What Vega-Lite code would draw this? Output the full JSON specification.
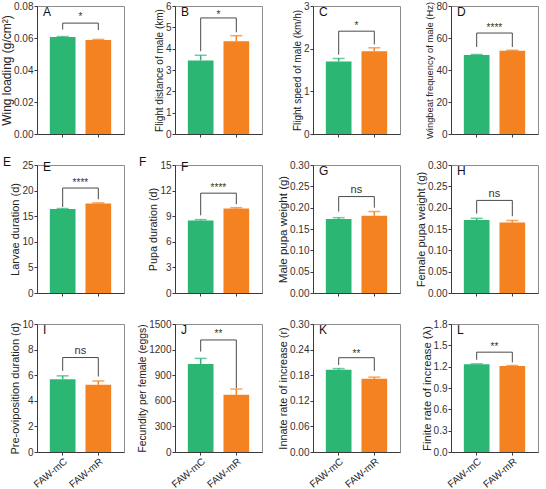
{
  "$schema": "https://vega.github.io/schema/vega-lite/v6.json",
  "padding": {"left": 0, "top": 0, "right": 0, "bottom": 4},
  "datasets": {
    "bars": [
      {"panel": "A", "group": "FAW-mC", "mean": 0.0606, "upper": 0.0609},
      {"panel": "A", "group": "FAW-mR", "mean": 0.0588, "upper": 0.0591},
      {"panel": "B", "group": "FAW-mC", "mean": 3.45, "upper": 3.69},
      {"panel": "B", "group": "FAW-mR", "mean": 4.35, "upper": 4.61},
      {"panel": "C", "group": "FAW-mC", "mean": 1.70, "upper": 1.77},
      {"panel": "C", "group": "FAW-mR", "mean": 1.94, "upper": 2.02},
      {"panel": "D", "group": "FAW-mC", "mean": 49.4, "upper": 49.7},
      {"panel": "D", "group": "FAW-mR", "mean": 52.1, "upper": 52.4},
      {"panel": "E", "group": "FAW-mC", "mean": 16.4, "upper": 16.5},
      {"panel": "E", "group": "FAW-mR", "mean": 17.5, "upper": 17.6},
      {"panel": "F", "group": "FAW-mC", "mean": 8.5, "upper": 8.6},
      {"panel": "F", "group": "FAW-mR", "mean": 9.9, "upper": 10.0},
      {"panel": "G", "group": "FAW-mC", "mean": 0.1735, "upper": 0.1765},
      {"panel": "G", "group": "FAW-mR", "mean": 0.181, "upper": 0.191},
      {"panel": "H", "group": "FAW-mC", "mean": 0.171, "upper": 0.175},
      {"panel": "H", "group": "FAW-mR", "mean": 0.165, "upper": 0.170},
      {"panel": "I", "group": "FAW-mC", "mean": 5.69, "upper": 5.95},
      {"panel": "I", "group": "FAW-mR", "mean": 5.25, "upper": 5.55},
      {"panel": "J", "group": "FAW-mC", "mean": 1030, "upper": 1097},
      {"panel": "J", "group": "FAW-mR", "mean": 670, "upper": 738},
      {"panel": "K", "group": "FAW-mC", "mean": 0.1925, "upper": 0.1955},
      {"panel": "K", "group": "FAW-mR", "mean": 0.1715, "upper": 0.1755},
      {"panel": "L", "group": "FAW-mC", "mean": 1.235, "upper": 1.24},
      {"panel": "L", "group": "FAW-mR", "mean": 1.21, "upper": 1.215}
    ],
    "br": [
      {"panel": "A", "ord": 1, "group": "FAW-mC", "y": 0.0653},
      {"panel": "A", "ord": 2, "group": "FAW-mC", "y": 0.0693},
      {"panel": "A", "ord": 3, "group": "FAW-mR", "y": 0.0693},
      {"panel": "A", "ord": 4, "group": "FAW-mR", "y": 0.065},
      {"panel": "B", "ord": 1, "group": "FAW-mC", "y": 3.88},
      {"panel": "B", "ord": 2, "group": "FAW-mC", "y": 5.44},
      {"panel": "B", "ord": 3, "group": "FAW-mR", "y": 5.44},
      {"panel": "B", "ord": 4, "group": "FAW-mR", "y": 4.77},
      {"panel": "C", "ord": 1, "group": "FAW-mC", "y": 1.86},
      {"panel": "C", "ord": 2, "group": "FAW-mC", "y": 2.41},
      {"panel": "C", "ord": 3, "group": "FAW-mR", "y": 2.41},
      {"panel": "C", "ord": 4, "group": "FAW-mR", "y": 2.10},
      {"panel": "D", "ord": 1, "group": "FAW-mC", "y": 54.4},
      {"panel": "D", "ord": 2, "group": "FAW-mC", "y": 63.1},
      {"panel": "D", "ord": 3, "group": "FAW-mR", "y": 63.1},
      {"panel": "D", "ord": 4, "group": "FAW-mR", "y": 54.4},
      {"panel": "E", "ord": 1, "group": "FAW-mC", "y": 16.8},
      {"panel": "E", "ord": 2, "group": "FAW-mC", "y": 20.5},
      {"panel": "E", "ord": 3, "group": "FAW-mR", "y": 20.5},
      {"panel": "E", "ord": 4, "group": "FAW-mR", "y": 18.3},
      {"panel": "F", "ord": 1, "group": "FAW-mC", "y": 9.1},
      {"panel": "F", "ord": 2, "group": "FAW-mC", "y": 11.7},
      {"panel": "F", "ord": 3, "group": "FAW-mR", "y": 11.7},
      {"panel": "F", "ord": 4, "group": "FAW-mR", "y": 10.4},
      {"panel": "G", "ord": 1, "group": "FAW-mC", "y": 0.191},
      {"panel": "G", "ord": 2, "group": "FAW-mC", "y": 0.226},
      {"panel": "G", "ord": 3, "group": "FAW-mR", "y": 0.226},
      {"panel": "G", "ord": 4, "group": "FAW-mR", "y": 0.200},
      {"panel": "H", "ord": 1, "group": "FAW-mC", "y": 0.186},
      {"panel": "H", "ord": 2, "group": "FAW-mC", "y": 0.217},
      {"panel": "H", "ord": 3, "group": "FAW-mR", "y": 0.217},
      {"panel": "H", "ord": 4, "group": "FAW-mR", "y": 0.180},
      {"panel": "I", "ord": 1, "group": "FAW-mC", "y": 6.34},
      {"panel": "I", "ord": 2, "group": "FAW-mC", "y": 7.38},
      {"panel": "I", "ord": 3, "group": "FAW-mR", "y": 7.38},
      {"panel": "I", "ord": 4, "group": "FAW-mR", "y": 5.9},
      {"panel": "J", "ord": 1, "group": "FAW-mC", "y": 1177},
      {"panel": "J", "ord": 2, "group": "FAW-mC", "y": 1313},
      {"panel": "J", "ord": 3, "group": "FAW-mR", "y": 1313},
      {"panel": "J", "ord": 4, "group": "FAW-mR", "y": 750},
      {"panel": "K", "ord": 1, "group": "FAW-mC", "y": 0.204},
      {"panel": "K", "ord": 2, "group": "FAW-mC", "y": 0.221},
      {"panel": "K", "ord": 3, "group": "FAW-mR", "y": 0.221},
      {"panel": "K", "ord": 4, "group": "FAW-mR", "y": 0.19},
      {"panel": "L", "ord": 1, "group": "FAW-mC", "y": 1.297},
      {"panel": "L", "ord": 2, "group": "FAW-mC", "y": 1.404},
      {"panel": "L", "ord": 3, "group": "FAW-mR", "y": 1.404},
      {"panel": "L", "ord": 4, "group": "FAW-mR", "y": 1.26}
    ],
    "sig": [
      {"panel": "A", "group": "FAW-mC", "label": "*", "y": 0.0733},
      {"panel": "B", "group": "FAW-mC", "label": "*", "y": 5.56},
      {"panel": "C", "group": "FAW-mC", "label": "*", "y": 2.53},
      {"panel": "D", "group": "FAW-mC", "label": "****", "y": 66.5},
      {"panel": "E", "group": "FAW-mC", "label": "****", "y": 21.4},
      {"panel": "F", "group": "FAW-mC", "label": "****", "y": 12.25},
      {"panel": "G", "group": "FAW-mC", "label": "ns", "y": 0.241},
      {"panel": "H", "group": "FAW-mC", "label": "ns", "y": 0.233},
      {"panel": "I", "group": "FAW-mC", "label": "ns", "y": 7.9},
      {"panel": "J", "group": "FAW-mC", "label": "**", "y": 1385},
      {"panel": "K", "group": "FAW-mC", "label": "**", "y": 0.2305},
      {"panel": "L", "group": "FAW-mC", "label": "**", "y": 1.47}
    ],
    "outer": [
      {"panel": "E", "group": "FAW-mC", "label": "E", "y": 25.6},
      {"panel": "F", "group": "FAW-mC", "label": "F", "y": 15.4}
    ]
  },
  "concat": [
    {
      "width": 87, "height": 128, "title": "A",
      "layer": [
        {"data": {"name": "bars"}, "transform": [{"filter": "datum.panel === 'A'"}], "mark": {"type": "bar"},
         "encoding": {"x": {"field": "group", "type": "nominal", "scale": {"paddingInner": 0.28, "paddingOuter": 0.36}, "axis": {"title": null, "labels": false}},
                      "y": {"field": "mean", "type": "quantitative", "scale": {"domain": [0, 0.08], "nice": false}, "axis": {"title": "Wing loading (g/cm²)", "titleFontSize": 12, "titlePadding": 0, "tickCount": 20, "values": [0, 0.02, 0.04, 0.06, 0.08], "format": ".2f"}},
                      "color": {"field": "group", "type": "nominal", "legend": null}}},
        {"data": {"name": "bars"}, "transform": [{"filter": "datum.panel === 'A'"}], "mark": {"type": "rule", "strokeWidth": 1.5},
         "encoding": {"x": {"field": "group", "type": "nominal"}, "y": {"field": "mean", "type": "quantitative"}, "y2": {"field": "upper"}, "color": {"field": "group", "type": "nominal", "legend": null}}},
        {"data": {"name": "bars"}, "transform": [{"filter": "datum.panel === 'A'"}], "mark": {"type": "tick", "thickness": 1.5, "size": 12},
         "encoding": {"x": {"field": "group", "type": "nominal"}, "y": {"field": "upper", "type": "quantitative"}, "color": {"field": "group", "type": "nominal", "legend": null}}},
        {"data": {"name": "br"}, "transform": [{"filter": "datum.panel === 'A'"}], "mark": {"type": "line", "color": "#4a4a4a", "strokeWidth": 1},
         "encoding": {"x": {"field": "group", "type": "nominal"}, "y": {"field": "y", "type": "quantitative"}, "order": {"field": "ord", "type": "quantitative"}}},
        {"data": {"name": "sig"}, "transform": [{"filter": "datum.panel === 'A'"}], "mark": {"type": "text", "fontSize": 10, "baseline": "middle"},
         "encoding": {"x": {"field": "group", "type": "nominal", "bandPosition": 1.19}, "y": {"field": "y", "type": "quantitative"}, "text": {"field": "label"}}}
      ]
    },
    {
      "width": 87, "height": 128, "title": "B",
      "layer": [
        {"data": {"name": "bars"}, "transform": [{"filter": "datum.panel === 'B'"}], "mark": {"type": "bar"},
         "encoding": {"x": {"field": "group", "type": "nominal", "scale": {"paddingInner": 0.28, "paddingOuter": 0.36}, "axis": {"title": null, "labels": false}},
                      "y": {"field": "mean", "type": "quantitative", "scale": {"domain": [0, 6], "nice": false}, "axis": {"title": "Flight distance of male (km)", "titleFontSize": 10, "tickCount": 20, "values": [0, 1, 2, 3, 4, 5, 6], "format": "d"}},
                      "color": {"field": "group", "type": "nominal", "legend": null}}},
        {"data": {"name": "bars"}, "transform": [{"filter": "datum.panel === 'B'"}], "mark": {"type": "rule", "strokeWidth": 1.5},
         "encoding": {"x": {"field": "group", "type": "nominal"}, "y": {"field": "mean", "type": "quantitative"}, "y2": {"field": "upper"}, "color": {"field": "group", "type": "nominal", "legend": null}}},
        {"data": {"name": "bars"}, "transform": [{"filter": "datum.panel === 'B'"}], "mark": {"type": "tick", "thickness": 1.5, "size": 12},
         "encoding": {"x": {"field": "group", "type": "nominal"}, "y": {"field": "upper", "type": "quantitative"}, "color": {"field": "group", "type": "nominal", "legend": null}}},
        {"data": {"name": "br"}, "transform": [{"filter": "datum.panel === 'B'"}], "mark": {"type": "line", "color": "#4a4a4a", "strokeWidth": 1},
         "encoding": {"x": {"field": "group", "type": "nominal"}, "y": {"field": "y", "type": "quantitative"}, "order": {"field": "ord", "type": "quantitative"}}},
        {"data": {"name": "sig"}, "transform": [{"filter": "datum.panel === 'B'"}], "mark": {"type": "text", "fontSize": 10, "baseline": "middle"},
         "encoding": {"x": {"field": "group", "type": "nominal", "bandPosition": 1.19}, "y": {"field": "y", "type": "quantitative"}, "text": {"field": "label"}}}
      ]
    },
    {
      "width": 87, "height": 128, "title": "C",
      "layer": [
        {"data": {"name": "bars"}, "transform": [{"filter": "datum.panel === 'C'"}], "mark": {"type": "bar"},
         "encoding": {"x": {"field": "group", "type": "nominal", "scale": {"paddingInner": 0.28, "paddingOuter": 0.36}, "axis": {"title": null, "labels": false}},
                      "y": {"field": "mean", "type": "quantitative", "scale": {"domain": [0, 3], "nice": false}, "axis": {"title": "Flight speed of male (km/h)", "titleFontSize": 10, "tickCount": 20, "values": [0, 1, 2, 3], "format": "d"}},
                      "color": {"field": "group", "type": "nominal", "legend": null}}},
        {"data": {"name": "bars"}, "transform": [{"filter": "datum.panel === 'C'"}], "mark": {"type": "rule", "strokeWidth": 1.5},
         "encoding": {"x": {"field": "group", "type": "nominal"}, "y": {"field": "mean", "type": "quantitative"}, "y2": {"field": "upper"}, "color": {"field": "group", "type": "nominal", "legend": null}}},
        {"data": {"name": "bars"}, "transform": [{"filter": "datum.panel === 'C'"}], "mark": {"type": "tick", "thickness": 1.5, "size": 12},
         "encoding": {"x": {"field": "group", "type": "nominal"}, "y": {"field": "upper", "type": "quantitative"}, "color": {"field": "group", "type": "nominal", "legend": null}}},
        {"data": {"name": "br"}, "transform": [{"filter": "datum.panel === 'C'"}], "mark": {"type": "line", "color": "#4a4a4a", "strokeWidth": 1},
         "encoding": {"x": {"field": "group", "type": "nominal"}, "y": {"field": "y", "type": "quantitative"}, "order": {"field": "ord", "type": "quantitative"}}},
        {"data": {"name": "sig"}, "transform": [{"filter": "datum.panel === 'C'"}], "mark": {"type": "text", "fontSize": 10, "baseline": "middle"},
         "encoding": {"x": {"field": "group", "type": "nominal", "bandPosition": 1.19}, "y": {"field": "y", "type": "quantitative"}, "text": {"field": "label"}}}
      ]
    },
    {
      "width": 87, "height": 128, "title": "D",
      "layer": [
        {"data": {"name": "bars"}, "transform": [{"filter": "datum.panel === 'D'"}], "mark": {"type": "bar"},
         "encoding": {"x": {"field": "group", "type": "nominal", "scale": {"paddingInner": 0.28, "paddingOuter": 0.36}, "axis": {"title": null, "labels": false}},
                      "y": {"field": "mean", "type": "quantitative", "scale": {"domain": [0, 80], "nice": false}, "axis": {"title": "Wingbeat frequency of male (Hz)", "titleFontSize": 9.4, "tickCount": 20, "values": [0, 20, 40, 60, 80], "format": "d"}},
                      "color": {"field": "group", "type": "nominal", "legend": null}}},
        {"data": {"name": "bars"}, "transform": [{"filter": "datum.panel === 'D'"}], "mark": {"type": "rule", "strokeWidth": 1.5},
         "encoding": {"x": {"field": "group", "type": "nominal"}, "y": {"field": "mean", "type": "quantitative"}, "y2": {"field": "upper"}, "color": {"field": "group", "type": "nominal", "legend": null}}},
        {"data": {"name": "bars"}, "transform": [{"filter": "datum.panel === 'D'"}], "mark": {"type": "tick", "thickness": 1.5, "size": 12},
         "encoding": {"x": {"field": "group", "type": "nominal"}, "y": {"field": "upper", "type": "quantitative"}, "color": {"field": "group", "type": "nominal", "legend": null}}},
        {"data": {"name": "br"}, "transform": [{"filter": "datum.panel === 'D'"}], "mark": {"type": "line", "color": "#4a4a4a", "strokeWidth": 1},
         "encoding": {"x": {"field": "group", "type": "nominal"}, "y": {"field": "y", "type": "quantitative"}, "order": {"field": "ord", "type": "quantitative"}}},
        {"data": {"name": "sig"}, "transform": [{"filter": "datum.panel === 'D'"}], "mark": {"type": "text", "fontSize": 10, "baseline": "middle"},
         "encoding": {"x": {"field": "group", "type": "nominal", "bandPosition": 1.19}, "y": {"field": "y", "type": "quantitative"}, "text": {"field": "label"}}}
      ]
    },
    {
      "width": 87, "height": 128, "title": "E",
      "layer": [
        {"data": {"name": "bars"}, "transform": [{"filter": "datum.panel === 'E'"}], "mark": {"type": "bar"},
         "encoding": {"x": {"field": "group", "type": "nominal", "scale": {"paddingInner": 0.28, "paddingOuter": 0.36}, "axis": {"title": null, "labels": false}},
                      "y": {"field": "mean", "type": "quantitative", "scale": {"domain": [0, 25], "nice": false}, "axis": {"title": "Larvae duration (d)", "titleFontSize": 11, "tickCount": 20, "values": [0, 5, 10, 15, 20, 25], "format": "d"}},
                      "color": {"field": "group", "type": "nominal", "legend": null}}},
        {"data": {"name": "bars"}, "transform": [{"filter": "datum.panel === 'E'"}], "mark": {"type": "rule", "strokeWidth": 1.5},
         "encoding": {"x": {"field": "group", "type": "nominal"}, "y": {"field": "mean", "type": "quantitative"}, "y2": {"field": "upper"}, "color": {"field": "group", "type": "nominal", "legend": null}}},
        {"data": {"name": "bars"}, "transform": [{"filter": "datum.panel === 'E'"}], "mark": {"type": "tick", "thickness": 1.5, "size": 12},
         "encoding": {"x": {"field": "group", "type": "nominal"}, "y": {"field": "upper", "type": "quantitative"}, "color": {"field": "group", "type": "nominal", "legend": null}}},
        {"data": {"name": "br"}, "transform": [{"filter": "datum.panel === 'E'"}], "mark": {"type": "line", "color": "#4a4a4a", "strokeWidth": 1},
         "encoding": {"x": {"field": "group", "type": "nominal"}, "y": {"field": "y", "type": "quantitative"}, "order": {"field": "ord", "type": "quantitative"}}},
        {"data": {"name": "sig"}, "transform": [{"filter": "datum.panel === 'E'"}], "mark": {"type": "text", "fontSize": 10, "baseline": "middle"},
         "encoding": {"x": {"field": "group", "type": "nominal", "bandPosition": 1.19}, "y": {"field": "y", "type": "quantitative"}, "text": {"field": "label"}}},
        {"data": {"name": "outer"}, "transform": [{"filter": "datum.panel === 'E'"}], "mark": {"type": "text", "fontSize": 12, "align": "left", "baseline": "middle", "color": "#111"},
         "encoding": {"x": {"field": "group", "type": "nominal", "bandPosition": -1.82}, "y": {"field": "y", "type": "quantitative"}, "text": {"field": "label"}}}
      ]
    },
    {
      "width": 87, "height": 128, "title": "F",
      "layer": [
        {"data": {"name": "bars"}, "transform": [{"filter": "datum.panel === 'F'"}], "mark": {"type": "bar"},
         "encoding": {"x": {"field": "group", "type": "nominal", "scale": {"paddingInner": 0.28, "paddingOuter": 0.36}, "axis": {"title": null, "labels": false}},
                      "y": {"field": "mean", "type": "quantitative", "scale": {"domain": [0, 15], "nice": false}, "axis": {"title": "Pupa duration (d)", "titleFontSize": 10.8, "tickCount": 20, "values": [0, 3, 6, 9, 12, 15], "format": "d"}},
                      "color": {"field": "group", "type": "nominal", "legend": null}}},
        {"data": {"name": "bars"}, "transform": [{"filter": "datum.panel === 'F'"}], "mark": {"type": "rule", "strokeWidth": 1.5},
         "encoding": {"x": {"field": "group", "type": "nominal"}, "y": {"field": "mean", "type": "quantitative"}, "y2": {"field": "upper"}, "color": {"field": "group", "type": "nominal", "legend": null}}},
        {"data": {"name": "bars"}, "transform": [{"filter": "datum.panel === 'F'"}], "mark": {"type": "tick", "thickness": 1.5, "size": 12},
         "encoding": {"x": {"field": "group", "type": "nominal"}, "y": {"field": "upper", "type": "quantitative"}, "color": {"field": "group", "type": "nominal", "legend": null}}},
        {"data": {"name": "br"}, "transform": [{"filter": "datum.panel === 'F'"}], "mark": {"type": "line", "color": "#4a4a4a", "strokeWidth": 1},
         "encoding": {"x": {"field": "group", "type": "nominal"}, "y": {"field": "y", "type": "quantitative"}, "order": {"field": "ord", "type": "quantitative"}}},
        {"data": {"name": "sig"}, "transform": [{"filter": "datum.panel === 'F'"}], "mark": {"type": "text", "fontSize": 10, "baseline": "middle"},
         "encoding": {"x": {"field": "group", "type": "nominal", "bandPosition": 1.19}, "y": {"field": "y", "type": "quantitative"}, "text": {"field": "label"}}},
        {"data": {"name": "outer"}, "transform": [{"filter": "datum.panel === 'F'"}], "mark": {"type": "text", "fontSize": 12, "align": "left", "baseline": "middle", "color": "#111"},
         "encoding": {"x": {"field": "group", "type": "nominal", "bandPosition": -1.9}, "y": {"field": "y", "type": "quantitative"}, "text": {"field": "label"}}}
      ]
    },
    {
      "width": 87, "height": 128, "title": "G",
      "layer": [
        {"data": {"name": "bars"}, "transform": [{"filter": "datum.panel === 'G'"}], "mark": {"type": "bar"},
         "encoding": {"x": {"field": "group", "type": "nominal", "scale": {"paddingInner": 0.28, "paddingOuter": 0.36}, "axis": {"title": null, "labels": false}},
                      "y": {"field": "mean", "type": "quantitative", "scale": {"domain": [0, 0.3], "nice": false}, "axis": {"title": "Male pupa weight (g)", "titleFontSize": 11.5, "tickCount": 20, "values": [0, 0.05, 0.1, 0.15, 0.2, 0.25, 0.3], "format": ".2f"}},
                      "color": {"field": "group", "type": "nominal", "legend": null}}},
        {"data": {"name": "bars"}, "transform": [{"filter": "datum.panel === 'G'"}], "mark": {"type": "rule", "strokeWidth": 1.5},
         "encoding": {"x": {"field": "group", "type": "nominal"}, "y": {"field": "mean", "type": "quantitative"}, "y2": {"field": "upper"}, "color": {"field": "group", "type": "nominal", "legend": null}}},
        {"data": {"name": "bars"}, "transform": [{"filter": "datum.panel === 'G'"}], "mark": {"type": "tick", "thickness": 1.5, "size": 12},
         "encoding": {"x": {"field": "group", "type": "nominal"}, "y": {"field": "upper", "type": "quantitative"}, "color": {"field": "group", "type": "nominal", "legend": null}}},
        {"data": {"name": "br"}, "transform": [{"filter": "datum.panel === 'G'"}], "mark": {"type": "line", "color": "#4a4a4a", "strokeWidth": 1},
         "encoding": {"x": {"field": "group", "type": "nominal"}, "y": {"field": "y", "type": "quantitative"}, "order": {"field": "ord", "type": "quantitative"}}},
        {"data": {"name": "sig"}, "transform": [{"filter": "datum.panel === 'G'"}], "mark": {"type": "text", "fontSize": 11, "baseline": "middle"},
         "encoding": {"x": {"field": "group", "type": "nominal", "bandPosition": 1.19}, "y": {"field": "y", "type": "quantitative"}, "text": {"field": "label"}}}
      ]
    },
    {
      "width": 87, "height": 128, "title": "H",
      "layer": [
        {"data": {"name": "bars"}, "transform": [{"filter": "datum.panel === 'H'"}], "mark": {"type": "bar"},
         "encoding": {"x": {"field": "group", "type": "nominal", "scale": {"paddingInner": 0.28, "paddingOuter": 0.36}, "axis": {"title": null, "labels": false}},
                      "y": {"field": "mean", "type": "quantitative", "scale": {"domain": [0, 0.3], "nice": false}, "axis": {"title": "Female pupa weight (g)", "titleFontSize": 11, "tickCount": 20, "values": [0, 0.05, 0.1, 0.15, 0.2, 0.25, 0.3], "format": ".2f"}},
                      "color": {"field": "group", "type": "nominal", "legend": null}}},
        {"data": {"name": "bars"}, "transform": [{"filter": "datum.panel === 'H'"}], "mark": {"type": "rule", "strokeWidth": 1.5},
         "encoding": {"x": {"field": "group", "type": "nominal"}, "y": {"field": "mean", "type": "quantitative"}, "y2": {"field": "upper"}, "color": {"field": "group", "type": "nominal", "legend": null}}},
        {"data": {"name": "bars"}, "transform": [{"filter": "datum.panel === 'H'"}], "mark": {"type": "tick", "thickness": 1.5, "size": 12},
         "encoding": {"x": {"field": "group", "type": "nominal"}, "y": {"field": "upper", "type": "quantitative"}, "color": {"field": "group", "type": "nominal", "legend": null}}},
        {"data": {"name": "br"}, "transform": [{"filter": "datum.panel === 'H'"}], "mark": {"type": "line", "color": "#4a4a4a", "strokeWidth": 1},
         "encoding": {"x": {"field": "group", "type": "nominal"}, "y": {"field": "y", "type": "quantitative"}, "order": {"field": "ord", "type": "quantitative"}}},
        {"data": {"name": "sig"}, "transform": [{"filter": "datum.panel === 'H'"}], "mark": {"type": "text", "fontSize": 11, "baseline": "middle"},
         "encoding": {"x": {"field": "group", "type": "nominal", "bandPosition": 1.19}, "y": {"field": "y", "type": "quantitative"}, "text": {"field": "label"}}}
      ]
    },
    {
      "width": 87, "height": 128, "title": "I",
      "layer": [
        {"data": {"name": "bars"}, "transform": [{"filter": "datum.panel === 'I'"}], "mark": {"type": "bar"},
         "encoding": {"x": {"field": "group", "type": "nominal", "scale": {"paddingInner": 0.28, "paddingOuter": 0.36}, "axis": {"title": null, "labelAngle": -40}},
                      "y": {"field": "mean", "type": "quantitative", "scale": {"domain": [0, 10], "nice": false}, "axis": {"title": "Pre-oviposition duration (d)", "titleFontSize": 11, "tickCount": 20, "values": [0, 2, 4, 6, 8, 10], "format": "d"}},
                      "color": {"field": "group", "type": "nominal", "legend": null}}},
        {"data": {"name": "bars"}, "transform": [{"filter": "datum.panel === 'I'"}], "mark": {"type": "rule", "strokeWidth": 1.5},
         "encoding": {"x": {"field": "group", "type": "nominal"}, "y": {"field": "mean", "type": "quantitative"}, "y2": {"field": "upper"}, "color": {"field": "group", "type": "nominal", "legend": null}}},
        {"data": {"name": "bars"}, "transform": [{"filter": "datum.panel === 'I'"}], "mark": {"type": "tick", "thickness": 1.5, "size": 12},
         "encoding": {"x": {"field": "group", "type": "nominal"}, "y": {"field": "upper", "type": "quantitative"}, "color": {"field": "group", "type": "nominal", "legend": null}}},
        {"data": {"name": "br"}, "transform": [{"filter": "datum.panel === 'I'"}], "mark": {"type": "line", "color": "#4a4a4a", "strokeWidth": 1},
         "encoding": {"x": {"field": "group", "type": "nominal"}, "y": {"field": "y", "type": "quantitative"}, "order": {"field": "ord", "type": "quantitative"}}},
        {"data": {"name": "sig"}, "transform": [{"filter": "datum.panel === 'I'"}], "mark": {"type": "text", "fontSize": 11, "baseline": "middle"},
         "encoding": {"x": {"field": "group", "type": "nominal", "bandPosition": 1.19}, "y": {"field": "y", "type": "quantitative"}, "text": {"field": "label"}}}
      ]
    },
    {
      "width": 87, "height": 128, "title": "J",
      "layer": [
        {"data": {"name": "bars"}, "transform": [{"filter": "datum.panel === 'J'"}], "mark": {"type": "bar"},
         "encoding": {"x": {"field": "group", "type": "nominal", "scale": {"paddingInner": 0.28, "paddingOuter": 0.36}, "axis": {"title": null, "labelAngle": -40}},
                      "y": {"field": "mean", "type": "quantitative", "scale": {"domain": [0, 1500], "nice": false}, "axis": {"title": "Fecundity per female (eggs)", "titleFontSize": 10.3, "tickCount": 20, "values": [0, 300, 600, 900, 1200, 1500], "format": "d"}},
                      "color": {"field": "group", "type": "nominal", "legend": null}}},
        {"data": {"name": "bars"}, "transform": [{"filter": "datum.panel === 'J'"}], "mark": {"type": "rule", "strokeWidth": 1.5},
         "encoding": {"x": {"field": "group", "type": "nominal"}, "y": {"field": "mean", "type": "quantitative"}, "y2": {"field": "upper"}, "color": {"field": "group", "type": "nominal", "legend": null}}},
        {"data": {"name": "bars"}, "transform": [{"filter": "datum.panel === 'J'"}], "mark": {"type": "tick", "thickness": 1.5, "size": 12},
         "encoding": {"x": {"field": "group", "type": "nominal"}, "y": {"field": "upper", "type": "quantitative"}, "color": {"field": "group", "type": "nominal", "legend": null}}},
        {"data": {"name": "br"}, "transform": [{"filter": "datum.panel === 'J'"}], "mark": {"type": "line", "color": "#4a4a4a", "strokeWidth": 1},
         "encoding": {"x": {"field": "group", "type": "nominal"}, "y": {"field": "y", "type": "quantitative"}, "order": {"field": "ord", "type": "quantitative"}}},
        {"data": {"name": "sig"}, "transform": [{"filter": "datum.panel === 'J'"}], "mark": {"type": "text", "fontSize": 10, "baseline": "middle"},
         "encoding": {"x": {"field": "group", "type": "nominal", "bandPosition": 1.19}, "y": {"field": "y", "type": "quantitative"}, "text": {"field": "label"}}}
      ]
    },
    {
      "width": 87, "height": 128, "title": "K",
      "layer": [
        {"data": {"name": "bars"}, "transform": [{"filter": "datum.panel === 'K'"}], "mark": {"type": "bar"},
         "encoding": {"x": {"field": "group", "type": "nominal", "scale": {"paddingInner": 0.28, "paddingOuter": 0.36}, "axis": {"title": null, "labelAngle": -40}},
                      "y": {"field": "mean", "type": "quantitative", "scale": {"domain": [0, 0.3], "nice": false}, "axis": {"title": "Innate rate of increase (r)", "titleFontSize": 10.9, "tickCount": 20, "values": [0, 0.06, 0.12, 0.18, 0.24, 0.3], "format": ".2f"}},
                      "color": {"field": "group", "type": "nominal", "legend": null}}},
        {"data": {"name": "bars"}, "transform": [{"filter": "datum.panel === 'K'"}], "mark": {"type": "rule", "strokeWidth": 1.5},
         "encoding": {"x": {"field": "group", "type": "nominal"}, "y": {"field": "mean", "type": "quantitative"}, "y2": {"field": "upper"}, "color": {"field": "group", "type": "nominal", "legend": null}}},
        {"data": {"name": "bars"}, "transform": [{"filter": "datum.panel === 'K'"}], "mark": {"type": "tick", "thickness": 1.5, "size": 12},
         "encoding": {"x": {"field": "group", "type": "nominal"}, "y": {"field": "upper", "type": "quantitative"}, "color": {"field": "group", "type": "nominal", "legend": null}}},
        {"data": {"name": "br"}, "transform": [{"filter": "datum.panel === 'K'"}], "mark": {"type": "line", "color": "#4a4a4a", "strokeWidth": 1},
         "encoding": {"x": {"field": "group", "type": "nominal"}, "y": {"field": "y", "type": "quantitative"}, "order": {"field": "ord", "type": "quantitative"}}},
        {"data": {"name": "sig"}, "transform": [{"filter": "datum.panel === 'K'"}], "mark": {"type": "text", "fontSize": 10, "baseline": "middle"},
         "encoding": {"x": {"field": "group", "type": "nominal", "bandPosition": 1.19}, "y": {"field": "y", "type": "quantitative"}, "text": {"field": "label"}}}
      ]
    },
    {
      "width": 87, "height": 128, "title": "L",
      "layer": [
        {"data": {"name": "bars"}, "transform": [{"filter": "datum.panel === 'L'"}], "mark": {"type": "bar"},
         "encoding": {"x": {"field": "group", "type": "nominal", "scale": {"paddingInner": 0.28, "paddingOuter": 0.36}, "axis": {"title": null, "labelAngle": -40}},
                      "y": {"field": "mean", "type": "quantitative", "scale": {"domain": [0, 1.8], "nice": false}, "axis": {"title": "Finite rate of increase (λ)", "titleFontSize": 11.3, "tickCount": 20, "values": [0, 0.3, 0.6, 0.9, 1.2, 1.5, 1.8], "format": ".1f"}},
                      "color": {"field": "group", "type": "nominal", "legend": null}}},
        {"data": {"name": "bars"}, "transform": [{"filter": "datum.panel === 'L'"}], "mark": {"type": "rule", "strokeWidth": 1.5},
         "encoding": {"x": {"field": "group", "type": "nominal"}, "y": {"field": "mean", "type": "quantitative"}, "y2": {"field": "upper"}, "color": {"field": "group", "type": "nominal", "legend": null}}},
        {"data": {"name": "bars"}, "transform": [{"filter": "datum.panel === 'L'"}], "mark": {"type": "tick", "thickness": 1.5, "size": 12},
         "encoding": {"x": {"field": "group", "type": "nominal"}, "y": {"field": "upper", "type": "quantitative"}, "color": {"field": "group", "type": "nominal", "legend": null}}},
        {"data": {"name": "br"}, "transform": [{"filter": "datum.panel === 'L'"}], "mark": {"type": "line", "color": "#4a4a4a", "strokeWidth": 1},
         "encoding": {"x": {"field": "group", "type": "nominal"}, "y": {"field": "y", "type": "quantitative"}, "order": {"field": "ord", "type": "quantitative"}}},
        {"data": {"name": "sig"}, "transform": [{"filter": "datum.panel === 'L'"}], "mark": {"type": "text", "fontSize": 10, "baseline": "middle"},
         "encoding": {"x": {"field": "group", "type": "nominal", "bandPosition": 1.19}, "y": {"field": "y", "type": "quantitative"}, "text": {"field": "label"}}}
      ]
    }
  ],
  "columns": 4,
  "bounds": "flush",
  "spacing": {"row": 31, "column": 51},
  "resolve": {"scale": {"color": "shared"}},
  "config": {
    "font": "Liberation Sans",
    "view": {"stroke": "#8c8c8c", "strokeWidth": 1},
    "range": {"category": ["#2BB673", "#F58220"]},
    "axis": {"domainColor": "#3a3a3a", "tickColor": "#3a3a3a", "labelColor": "#333", "titleColor": "#222", "labelFontSize": 10, "titleFontSize": 11, "titleFontWeight": "normal", "grid": false, "tickSize": 3, "labelPadding": 1, "titlePadding": 1, "labelOverlap": false},
    "axisX": {"labelFontSize": 10, "labelColor": "#222", "labelPadding": 1},
    "title": {"anchor": "start", "frame": "group", "offset": -18, "dx": 6, "fontSize": 12, "fontWeight": "normal", "color": "#111"},
    "text": {"color": "#333"}
  }
}
